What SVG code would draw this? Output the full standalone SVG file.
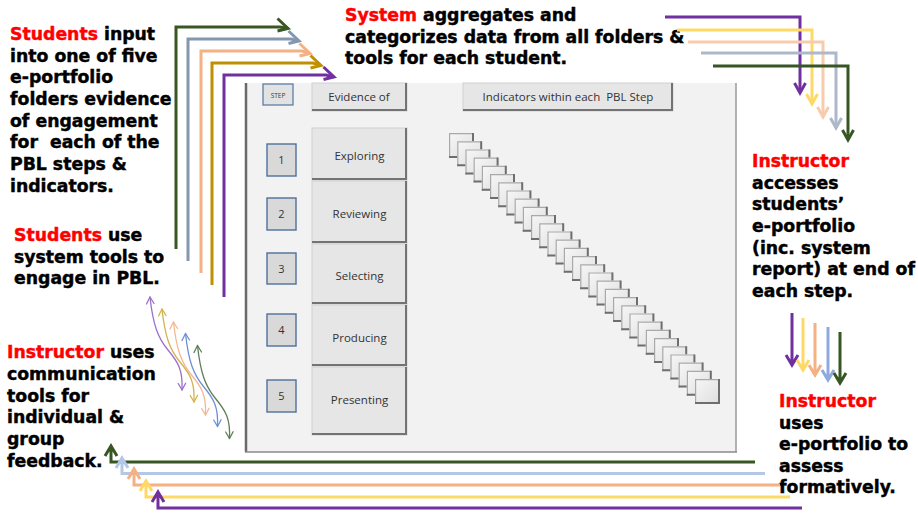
<svg xmlns="http://www.w3.org/2000/svg" xmlns:xlink="http://www.w3.org/1999/xlink" width="918" height="514" viewBox="0 0 918 514">
  <style>
    .t { font-family: "DejaVu Sans", "Liberation Sans", sans-serif; font-weight: bold; font-size: 17.3px; fill: #000; stroke: #000; stroke-width: 0.45px; }
    .r { fill: #ff0000; stroke: #ff0000; }
    .ui { font-family: "Open Sans", "Liberation Sans", sans-serif; font-size: 11.5px; fill: #333333; text-anchor: middle; }
    .num { font-family: "Open Sans", "Liberation Sans", sans-serif; font-size: 11px; fill: #333333; text-anchor: middle; }
    .btn { fill: #e6e6e6; stroke: #cfcfcf; stroke-width: 1; }
    .btn-shade { fill: none; stroke: #737373; stroke-width: 2; }
    .nbox { fill: #d9d9d9; stroke: #4f719a; stroke-width: 1.4; }
    .ln { fill: none; stroke-width: 3; stroke-linejoin: miter; stroke-linecap: butt; }
    .thin { fill: none; stroke-width: 1.3; stroke-linecap: round; stroke-linejoin: round; }
  </style>
  <defs>
    <linearGradient id="tileFill" x1="0" y1="0" x2="1" y2="1">
      <stop offset="0" stop-color="#f7f7f7"/>
      <stop offset="1" stop-color="#dddddd"/>
    </linearGradient>
    <g id="tile">
      <rect width="25" height="25" fill="url(#tileFill)"/>
      <path d="M0.6,25 V0.6 H24" fill="none" stroke="#a9a9a9" stroke-width="1.2"/>
      <path d="M24,0 V24 H0" fill="none" stroke="#6e6e6e" stroke-width="2"/>
    </g>
    <!-- S-shaped two-way arrow used for the communication tools -->
    <g id="wave">
      <path d="M150,297 C153,325 158,338 168,350 C178,362 183,370 182,390"/>
      <path d="M146.5,304 L150,297 L154,303.5"/>
      <path d="M178.2,383.5 L182,390 L185.6,383.2"/>
    </g>
  </defs>

  <rect width="918" height="514" fill="#ffffff"/>

  <!-- e-portfolio panel -->
  <g id="panel">
    <rect x="246" y="83" width="490" height="369" fill="#f2f2f2"/>
    <line x1="246" y1="83" x2="246" y2="452" stroke="#6a6a6a" stroke-width="2.5"/>
    <line x1="736" y1="83" x2="736" y2="452" stroke="#9a9a9a" stroke-width="1.5"/>
    <line x1="245" y1="452" x2="737" y2="452" stroke="#8a8a8a" stroke-width="1.5"/>

    <g id="header-step">
      <rect x="263" y="84" width="30" height="21" fill="#e2e2e2" stroke="#5a7ea6" stroke-width="1.3"/>
      <text x="278" y="97.5" font-family="Open Sans, Liberation Sans, sans-serif" font-size="6.5" fill="#404040" text-anchor="middle">STEP</text>
    </g>
    <g id="header-evidence">
      <rect class="btn" x="312" y="83" width="95" height="28"/>
      <path class="btn-shade" d="M406,83 V110 H312"/>
      <text class="ui" x="359" y="101">Evidence of</text>
    </g>
    <g id="header-indicators">
      <rect class="btn" x="463" y="83" width="210" height="28"/>
      <path class="btn-shade" d="M672,83 V110 H463"/>
      <text class="ui" x="568" y="101" xml:space="preserve">Indicators within each  PBL Step</text>
    </g>

    <g id="step-1">
      <rect class="nbox" x="267" y="144" width="29" height="32"/>
      <text class="num" x="281.5" y="164">1</text>
      <rect class="btn" x="312" y="128" width="95" height="52"/>
      <path class="btn-shade" d="M406,128 V179 H312"/>
      <text class="ui" x="359.5" y="160">Exploring</text>
    </g>
    <g id="step-2">
      <rect class="nbox" x="267" y="198" width="29" height="32"/>
      <text class="num" x="281.5" y="218">2</text>
      <rect class="btn" x="312" y="181" width="95" height="62"/>
      <path class="btn-shade" d="M406,181 V242 H312"/>
      <text class="ui" x="359.5" y="218">Reviewing</text>
    </g>
    <g id="step-3">
      <rect class="nbox" x="267" y="253" width="29" height="31"/>
      <text class="num" x="281.5" y="272.5">3</text>
      <rect class="btn" x="312" y="244" width="95" height="60"/>
      <path class="btn-shade" d="M406,244 V303 H312"/>
      <text class="ui" x="359.5" y="280">Selecting</text>
    </g>
    <g id="step-4">
      <rect class="nbox" x="267" y="314" width="29" height="32"/>
      <text class="num" x="281.5" y="334">4</text>
      <rect class="btn" x="312" y="305" width="95" height="61"/>
      <path class="btn-shade" d="M406,305 V365 H312"/>
      <text class="ui" x="359.5" y="342">Producing</text>
    </g>
    <g id="step-5">
      <rect class="nbox" x="267" y="380" width="29" height="32"/>
      <text class="num" x="281.5" y="400">5</text>
      <rect class="btn" x="312" y="367" width="95" height="68"/>
      <path class="btn-shade" d="M406,367 V434 H312"/>
      <text class="ui" x="359.5" y="404">Presenting</text>
    </g>

    <!-- staircase of indicator tiles -->
    <g id="indicators">
      <use xlink:href="#tile" x="449" y="133"/>
      <use xlink:href="#tile" x="457.2" y="141.2"/>
      <use xlink:href="#tile" x="465.4" y="149.4"/>
      <use xlink:href="#tile" x="473.6" y="157.6"/>
      <use xlink:href="#tile" x="481.8" y="165.8"/>
      <use xlink:href="#tile" x="490" y="174"/>
      <use xlink:href="#tile" x="498.2" y="182.2"/>
      <use xlink:href="#tile" x="506.4" y="190.4"/>
      <use xlink:href="#tile" x="514.6" y="198.6"/>
      <use xlink:href="#tile" x="522.8" y="206.8"/>
      <use xlink:href="#tile" x="531" y="215"/>
      <use xlink:href="#tile" x="539.2" y="223.2"/>
      <use xlink:href="#tile" x="547.4" y="231.4"/>
      <use xlink:href="#tile" x="555.6" y="239.6"/>
      <use xlink:href="#tile" x="563.8" y="247.8"/>
      <use xlink:href="#tile" x="572" y="256"/>
      <use xlink:href="#tile" x="580.2" y="264.2"/>
      <use xlink:href="#tile" x="588.4" y="272.4"/>
      <use xlink:href="#tile" x="596.6" y="280.6"/>
      <use xlink:href="#tile" x="604.8" y="288.8"/>
      <use xlink:href="#tile" x="613" y="297"/>
      <use xlink:href="#tile" x="621.2" y="305.2"/>
      <use xlink:href="#tile" x="629.4" y="313.4"/>
      <use xlink:href="#tile" x="637.6" y="321.6"/>
      <use xlink:href="#tile" x="645.8" y="329.8"/>
      <use xlink:href="#tile" x="654" y="338"/>
      <use xlink:href="#tile" x="662.2" y="346.2"/>
      <use xlink:href="#tile" x="670.4" y="354.4"/>
      <use xlink:href="#tile" x="678.6" y="362.6"/>
      <use xlink:href="#tile" x="686.8" y="370.8"/>
      <use xlink:href="#tile" x="695" y="379"/>
    </g>
  </g>

  <!-- captions -->
  <g id="note-students-input">
    <text class="t" x="10" y="40"><tspan class="r">Students</tspan> input</text>
    <text class="t" x="10" y="61.7">into one of five</text>
    <text class="t" x="10" y="83.3">e-portfolio</text>
    <text class="t" x="10" y="105">folders evidence</text>
    <text class="t" x="10" y="126.7">of engagement</text>
    <text class="t" x="10" y="148.3" xml:space="preserve">for  each of the</text>
    <text class="t" x="10" y="170">PBL steps &amp;</text>
    <text class="t" x="10" y="191.7">indicators.</text>
  </g>
  <g id="note-students-tools">
    <text class="t" x="14" y="241"><tspan class="r">Students</tspan> use</text>
    <text class="t" x="14" y="262.5">system tools to</text>
    <text class="t" x="14" y="284">engage in PBL.</text>
  </g>
  <g id="note-system">
    <text class="t" x="345" y="21"><tspan class="r">System</tspan> aggregates and</text>
    <text class="t" x="345" y="42.5">categorizes data from all folders &amp;</text>
    <text class="t" x="345" y="64">tools for each student.</text>
  </g>
  <g id="note-instructor-access">
    <text class="t r" x="752" y="167">Instructor</text>
    <text class="t" x="752" y="188.7">accesses</text>
    <text class="t" x="752" y="210.3">students’</text>
    <text class="t" x="752" y="232">e-portfolio</text>
    <text class="t" x="752" y="253.7">(inc. system</text>
    <text class="t" x="752" y="275.3">report) at end of</text>
    <text class="t" x="752" y="297">each step.</text>
  </g>
  <g id="note-instructor-assess">
    <text class="t r" x="779" y="407">Instructor</text>
    <text class="t" x="779" y="428.5">uses</text>
    <text class="t" x="779" y="450">e-portfolio to</text>
    <text class="t" x="779" y="471.5">assess</text>
    <text class="t" x="779" y="493">formatively.</text>
  </g>
  <g id="note-instructor-feedback">
    <text class="t" x="7" y="358"><tspan class="r">Instructor</tspan> uses</text>
    <text class="t" x="7" y="379.8">communication</text>
    <text class="t" x="7" y="401.6">tools for</text>
    <text class="t" x="7" y="423.4">individual &amp;</text>
    <text class="t" x="7" y="445.2">group</text>
    <text class="t" x="7" y="467">feedback.</text>
  </g>

  <g id="connectors">
    <!-- students into folders -->
    <path class="ln" stroke="#385723" d="M176,249 V27 H280 L288,28.5"/>
    <path class="ln" stroke="#385723" d="M277.5,18.5 L288,28.5 L277.5,31"/>
    <path class="ln" stroke="#8497b0" d="M188,261 V39 H291 L299,41"/>
    <path class="ln" stroke="#8497b0" d="M288.5,31 L299,41 L288.5,43.5"/>
    <path class="ln" stroke="#f4b183" d="M201,273 V51 H302 L310,53.5"/>
    <path class="ln" stroke="#f4b183" d="M299.5,43.5 L310,53.5 L299.5,56"/>
    <path class="ln" stroke="#bf9000" d="M212,285 V63 H313 L321,65.5"/>
    <path class="ln" stroke="#bf9000" d="M310.5,55.5 L321,65.5 L310.5,68"/>
    <path class="ln" stroke="#7030a0" d="M224,297 V75 H326 L334,77"/>
    <path class="ln" stroke="#7030a0" d="M323.5,67 L334,77 L323.5,79.5"/>

    <!-- system report to instructor -->
    <path class="ln" stroke="#7030a0" d="M665,17 H800 V93"/>
    <path class="ln" stroke="#7030a0" d="M794.5,83 L800,93 L805.5,83"/>
    <path class="ln" stroke="#ffd966" d="M677,30 H812 V104"/>
    <path class="ln" stroke="#ffd966" d="M806.5,94 L812,104 L817.5,94"/>
    <path class="ln" stroke="#f8cbad" d="M688,42 H823 V117"/>
    <path class="ln" stroke="#f8cbad" d="M817.5,107 L823,117 L828.5,107"/>
    <path class="ln" stroke="#adb9ca" d="M701,53 H836 V128"/>
    <path class="ln" stroke="#adb9ca" d="M830.5,118 L836,128 L841.5,118"/>
    <path class="ln" stroke="#375623" d="M713,66 H848 V140"/>
    <path class="ln" stroke="#375623" d="M842.5,130 L848,140 L853.5,130"/>

    <!-- access leads to assessment -->
    <path class="ln" stroke="#7030a0" d="M792,313 V365 M786,355 L792,365 L798,355"/>
    <path class="ln" stroke="#ffd966" d="M803,318 V370 M797,360 L803,370 L809,360"/>
    <path class="ln" stroke="#f4b183" d="M815,323 V375 M809,365 L815,375 L821,365"/>
    <path class="ln" stroke="#8faadc" d="M828,327 V380 M822,370 L828,380 L834,370"/>
    <path class="ln" stroke="#375623" d="M840,332 V383 M834,373 L840,383 L846,373"/>

    <!-- assessment feeds back to instructor feedback -->
    <path class="ln" stroke="#375623" d="M755,462 H111 V446 M105,456 L111,446 L117,456"/>
    <path class="ln" stroke="#b4c7e7" d="M765,473.5 H122 V458 M116,468 L122,458 L128,468"/>
    <path class="ln" stroke="#f4b183" d="M780,485 H134 V469 M128,479 L134,469 L140,479"/>
    <path class="ln" stroke="#ffd966" d="M790,497 H146 V481 M140,491 L146,481 L152,491"/>
    <path class="ln" stroke="#7030a0" d="M802,508 H158 V492 M152,502 L158,492 L164,502"/>

    <!-- communication tools -->
    <use xlink:href="#wave" class="thin" stroke="#9a70cc"/>
    <use xlink:href="#wave" class="thin" stroke="#d4b24c" transform="translate(12,12)"/>
    <use xlink:href="#wave" class="thin" stroke="#f2b894" transform="translate(23.5,25)"/>
    <use xlink:href="#wave" class="thin" stroke="#6e8fd6" transform="translate(35.5,36.5)"/>
    <use xlink:href="#wave" class="thin" stroke="#5f7d56" transform="translate(47.5,48.5)"/>
  </g>
</svg>
